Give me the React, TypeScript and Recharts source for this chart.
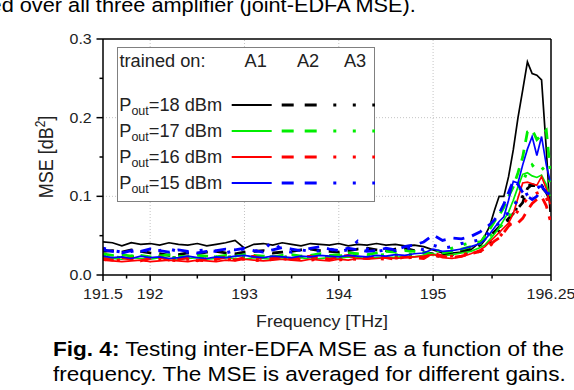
import React from 'react';
import { LineChart, Line, XAxis, YAxis, ReferenceLine, Legend } from 'recharts';

const FONT = '"Liberation Sans", Arial, Helvetica, sans-serif';

// frequency grid [THz]
const freqs = [
  191.5, 191.6, 191.7, 191.8, 191.9, 192.0, 192.1, 192.2, 192.3, 192.4,
  192.5, 192.6, 192.7, 192.8, 192.9, 193.0, 193.1, 193.2, 193.3, 193.4,
  193.5, 193.6, 193.7, 193.8, 193.9, 194.0, 194.1, 194.2, 194.3, 194.4,
  194.5, 194.6, 194.7, 194.8, 194.9, 195.0, 195.1, 195.2, 195.3, 195.4,
  195.5, 195.55, 195.6, 195.65, 195.7, 195.75, 195.8, 195.85, 195.9, 195.95,
  196.0, 196.05, 196.1, 196.15, 196.2, 196.24,
];

// MSE [dB^2], Pout = 18 dBm
const p18A1 = [
  0.042, 0.041, 0.037, 0.041, 0.039, 0.040, 0.038, 0.041, 0.039, 0.038,
  0.040, 0.037, 0.039, 0.041, 0.044, 0.034, 0.039, 0.040, 0.038, 0.041,
  0.039, 0.037, 0.040, 0.039, 0.038, 0.040, 0.037, 0.039, 0.038, 0.040,
  0.038, 0.039, 0.037, 0.038, 0.036, 0.032, 0.028, 0.028, 0.029, 0.032,
  0.042, 0.050, 0.062, 0.082, 0.100, 0.100, 0.125, 0.159, 0.200, 0.235,
  0.271, 0.256, 0.254, 0.248, 0.160, 0.080,
];
const p18A2 = [
  0.030, 0.031, 0.029, 0.032, 0.030, 0.028, 0.027, 0.025, 0.026, 0.028,
  0.027, 0.029, 0.030, 0.028, 0.027, 0.029, 0.030, 0.031, 0.028, 0.029,
  0.030, 0.032, 0.033, 0.031, 0.030, 0.029, 0.031, 0.033, 0.034, 0.032,
  0.031, 0.033, 0.034, 0.031, 0.029, 0.027, 0.026, 0.028, 0.030, 0.033,
  0.038, 0.046, 0.050, 0.055, 0.061, 0.065, 0.072, 0.078, 0.085, 0.092,
  0.110, 0.115, 0.113, 0.112, 0.105, 0.095,
];
const p18A3 = [
  0.023, 0.022, 0.021, 0.023, 0.022, 0.021, 0.022, 0.023, 0.021, 0.022,
  0.023, 0.021, 0.022, 0.023, 0.022, 0.024, 0.022, 0.021, 0.023, 0.022,
  0.024, 0.023, 0.022, 0.021, 0.023, 0.022, 0.024, 0.023, 0.022, 0.024,
  0.023, 0.025, 0.024, 0.023, 0.024, 0.025, 0.024, 0.026, 0.027, 0.029,
  0.030, 0.034, 0.040, 0.047, 0.055, 0.062, 0.070, 0.078, 0.088, 0.100,
  0.112, 0.116, 0.117, 0.114, 0.105, 0.090,
];

// Pout = 17 dBm
const p17A1 = [
  0.022, 0.021, 0.020, 0.022, 0.021, 0.020, 0.022, 0.021, 0.020, 0.021,
  0.022, 0.020, 0.021, 0.022, 0.021, 0.020, 0.022, 0.021, 0.020, 0.022,
  0.021, 0.022, 0.020, 0.021, 0.022, 0.021, 0.023, 0.022, 0.021, 0.022,
  0.023, 0.022, 0.024, 0.023, 0.025, 0.027, 0.024, 0.026, 0.028, 0.030,
  0.035, 0.038, 0.045, 0.052, 0.060, 0.070, 0.080, 0.095, 0.112, 0.128,
  0.130, 0.126, 0.124, 0.127, 0.115, 0.100,
];
const p17A2 = [
  0.027, 0.025, 0.026, 0.024, 0.025, 0.023, 0.024, 0.026, 0.024, 0.023,
  0.025, 0.024, 0.023, 0.025, 0.024, 0.026, 0.025, 0.024, 0.023, 0.025,
  0.026, 0.024, 0.025, 0.027, 0.025, 0.026, 0.028, 0.027, 0.026, 0.028,
  0.030, 0.029, 0.031, 0.030, 0.029, 0.026, 0.028, 0.030, 0.033, 0.036,
  0.040, 0.050, 0.058, 0.068, 0.076, 0.086, 0.100, 0.112, 0.130, 0.150,
  0.182, 0.185, 0.172, 0.178, 0.184, 0.135,
];
const p17A3 = [
  0.025, 0.023, 0.022, 0.024, 0.023, 0.022, 0.024, 0.023, 0.021, 0.023,
  0.022, 0.024, 0.023, 0.022, 0.024, 0.023, 0.022, 0.024, 0.023, 0.022,
  0.024, 0.023, 0.022, 0.024, 0.023, 0.024, 0.025, 0.024, 0.023, 0.025,
  0.026, 0.025, 0.027, 0.026, 0.028, 0.030, 0.031, 0.034, 0.038, 0.041,
  0.042, 0.046, 0.050, 0.055, 0.060, 0.066, 0.072, 0.085, 0.100, 0.118,
  0.132, 0.140, 0.133, 0.137, 0.130, 0.118,
];

// Pout = 16 dBm
const p16A1 = [
  0.019, 0.018, 0.017, 0.018, 0.019, 0.017, 0.018, 0.019, 0.018, 0.017,
  0.019, 0.018, 0.017, 0.019, 0.018, 0.020, 0.019, 0.018, 0.019, 0.020,
  0.019, 0.018, 0.020, 0.019, 0.018, 0.020, 0.019, 0.021, 0.020, 0.021,
  0.022, 0.021, 0.022, 0.023, 0.024, 0.026, 0.022, 0.021, 0.023, 0.027,
  0.032, 0.036, 0.042, 0.048, 0.054, 0.060, 0.066, 0.078, 0.098, 0.117,
  0.118, 0.116, 0.114, 0.125, 0.110, 0.090,
];
const p16A2 = [
  0.021, 0.019, 0.022, 0.020, 0.018, 0.021, 0.023, 0.019, 0.020, 0.022,
  0.018, 0.021, 0.020, 0.023, 0.019, 0.022, 0.024, 0.020, 0.021, 0.023,
  0.020, 0.022, 0.024, 0.021, 0.020, 0.023, 0.025, 0.022, 0.021, 0.024,
  0.022, 0.020, 0.023, 0.022, 0.021, 0.028, 0.024, 0.022, 0.024, 0.027,
  0.030, 0.034, 0.038, 0.043, 0.047, 0.054, 0.062, 0.067, 0.066, 0.072,
  0.082, 0.091, 0.096, 0.100, 0.088, 0.070,
];
const p16A3 = [
  0.020, 0.018, 0.019, 0.021, 0.019, 0.018, 0.020, 0.019, 0.018, 0.020,
  0.019, 0.018, 0.020, 0.019, 0.021, 0.020, 0.019, 0.018, 0.020, 0.021,
  0.019, 0.020, 0.019, 0.021, 0.020, 0.019, 0.021, 0.020, 0.022, 0.021,
  0.020, 0.022, 0.021, 0.023, 0.022, 0.025, 0.023, 0.024, 0.026, 0.028,
  0.030, 0.033, 0.037, 0.042, 0.048, 0.055, 0.063, 0.072, 0.082, 0.090,
  0.097, 0.100, 0.104, 0.106, 0.098, 0.088,
];

// Pout = 15 dBm
const p15A1 = [
  0.024, 0.022, 0.023, 0.021, 0.024, 0.022, 0.023, 0.021, 0.022, 0.024,
  0.022, 0.021, 0.023, 0.022, 0.024, 0.025, 0.023, 0.022, 0.024, 0.023,
  0.022, 0.024, 0.023, 0.025, 0.024, 0.023, 0.025, 0.024, 0.023, 0.025,
  0.024, 0.026, 0.025, 0.027, 0.028, 0.033, 0.030, 0.031, 0.033, 0.036,
  0.040, 0.045, 0.052, 0.060, 0.068, 0.074, 0.095, 0.119, 0.117, 0.140,
  0.160, 0.176, 0.152, 0.176, 0.140, 0.120,
];
const p15A2 = [
  0.032, 0.030, 0.028, 0.031, 0.030, 0.033, 0.031, 0.029, 0.032, 0.030,
  0.028, 0.030, 0.031, 0.033, 0.032, 0.034, 0.031, 0.029, 0.032, 0.035,
  0.033, 0.031, 0.034, 0.036, 0.033, 0.031, 0.034, 0.032, 0.030, 0.031,
  0.034, 0.032, 0.036, 0.038, 0.042, 0.051, 0.044, 0.047, 0.046, 0.049,
  0.055, 0.060, 0.064, 0.070, 0.078, 0.090, 0.105, 0.120, 0.115, 0.105,
  0.100, 0.096, 0.100, 0.113, 0.105, 0.100,
];
const p15A3 = [
  0.034, 0.031, 0.029, 0.030, 0.032, 0.030, 0.031, 0.033, 0.030, 0.029,
  0.031, 0.032, 0.030, 0.028, 0.031, 0.033, 0.030, 0.032, 0.043, 0.031,
  0.029, 0.032, 0.030, 0.031, 0.033, 0.030, 0.032, 0.043, 0.033, 0.030,
  0.032, 0.031, 0.033, 0.035, 0.032, 0.038, 0.034, 0.036, 0.040, 0.042,
  0.045, 0.050, 0.055, 0.060, 0.066, 0.072, 0.080, 0.088, 0.095, 0.100,
  0.103, 0.106, 0.110, 0.114, 0.108, 0.100,
];

const xTicks = [191.5, 191.75, 192, 192.5, 193, 193.5, 194, 194.5, 195, 195.625, 196.25];
const xMajor = [191.5, 192, 193, 194, 195, 196.25];
const yTicks = [0, 0.05, 0.1, 0.15, 0.2, 0.25, 0.3];
const yMajor = [0, 0.1, 0.2, 0.3];
const xGrid = [192, 193, 194, 195];
const yGrid = [0.1, 0.2];

const powers = ['18', '17', '16', '15'];
const powerColors = ['#000000', '#00ee00', '#ff0000', '#0000ff'];
const trainedOn = ['A1', 'A2', 'A3'];

const lineStyles: Record<string, { width: number; dash?: string }> = {
  A1: { width: 1.7 },
  A2: { width: 2.8, dash: '11 8' },
  A3: { width: 3, dash: '3 11' },
};

const series = [
  { key: 'p18A1', color: powerColors[0], amp: 'A1', values: p18A1 },
  { key: 'p18A2', color: powerColors[0], amp: 'A2', values: p18A2 },
  { key: 'p18A3', color: powerColors[0], amp: 'A3', values: p18A3 },
  { key: 'p17A1', color: powerColors[1], amp: 'A1', values: p17A1 },
  { key: 'p17A2', color: powerColors[1], amp: 'A2', values: p17A2 },
  { key: 'p17A3', color: powerColors[1], amp: 'A3', values: p17A3 },
  { key: 'p16A1', color: powerColors[2], amp: 'A1', values: p16A1 },
  { key: 'p16A2', color: powerColors[2], amp: 'A2', values: p16A2 },
  { key: 'p16A3', color: powerColors[2], amp: 'A3', values: p16A3 },
  { key: 'p15A1', color: powerColors[3], amp: 'A1', values: p15A1 },
  { key: 'p15A2', color: powerColors[3], amp: 'A2', values: p15A2 },
  { key: 'p15A3', color: powerColors[3], amp: 'A3', values: p15A3 },
];

const XTick = (props: any) => {
  const { x, y, payload } = props;
  const major = xMajor.includes(payload.value);
  return (
    <g>
      <line x1={x} x2={x} y1={y} y2={y + (major ? 6 : 3.5)} stroke="#000" strokeWidth={1.5} />
      {major && (
        <text transform={`translate(${x} ${y + 24.3}) scale(1.14 1)`} textAnchor="middle" fontSize={14} fill="#222">
          {String(payload.value)}
        </text>
      )}
    </g>
  );
};

const YTick = (props: any) => {
  const { x, y, payload } = props;
  const major = yMajor.some((v) => Math.abs(v - payload.value) < 1e-9);
  return (
    <g>
      <line x1={x - (major ? 6.5 : 3.5)} x2={x} y1={y} y2={y} stroke="#000" strokeWidth={1.5} />
      {major && (
        <text transform={`translate(${x - 11.3} ${y + 5}) scale(1.14 1)`} textAnchor="end" fontSize={14} fill="#222">
          {payload.value.toFixed(1)}
        </text>
      )}
    </g>
  );
};

const XTitle = (props: any) => {
  const vb = props.viewBox;
  return (
    <text transform={`translate(${vb.x + vb.width / 2 - 5} ${vb.y + 51.7}) scale(1.05 1)`} textAnchor="middle" fontSize={17} fill="#222">
      Frequency [THz]
    </text>
  );
};

const YTitle = (props: any) => {
  const vb = props.viewBox;
  const cx = vb.x + 2.8;
  const cy = vb.y + vb.height / 2;
  return (
    <text transform={`translate(${cx} ${cy}) scale(1.15 1) rotate(-90)`} x={0} y={6.4} textAnchor="middle" fontSize={18} fill="#222">
      MSE [dB<tspan dy={-7} fontSize={12}>2</tspan><tspan dy={7}>]</tspan>
    </text>
  );
};

const legendColX = [138.7, 191, 238];

const LegendBox = () => (
  <svg width={258} height={155} style={{ display: 'block', fontFamily: FONT }}>
    <rect x={0.5} y={0.5} width={257} height={154} fill="#fff" stroke="#808080" strokeWidth={1} />
    <text transform="translate(2.5 19.7) scale(1.04 1)" fontSize={17.5} fill="#222">trained on:</text>
    {trainedOn.map((a, i) => (
      <text key={a} transform={`translate(${legendColX[i]} 19.7) scale(1.04 1)`} textAnchor="middle" fontSize={17.5} fill="#222">
        {a}
      </text>
    ))}
    {powers.map((p, r) => {
      const base = 63.7 + 26 * r;
      const ly = base - 5.7;
      const c = powerColors[r];
      return (
        <g key={p}>
          <text transform={`translate(2.3 ${base}) scale(1.04 1)`} fontSize={17.5} fill="#222">
            P<tspan fontSize={12} dy={4.3}>out</tspan>
            <tspan dy={-4.3}>={p} dBm</tspan>
          </text>
          <line x1={114.7} x2={154.7} y1={ly} y2={ly} stroke={c} strokeWidth={2} />
          <line x1={164.7} x2={199.7} y1={ly} y2={ly} stroke={c} strokeWidth={3} strokeDasharray="12 11" />
          <line x1={216.3} x2={258} y1={ly} y2={ly} stroke={c} strokeWidth={3} strokeDasharray="3 16.5" />
        </g>
      );
    })}
  </svg>
);

export default function App() {
  const data = freqs.map((f, i) => {
    const row: Record<string, number> = { f };
    series.forEach((s) => {
      row[s.key] = s.values[i];
    });
    return row;
  });

  return (
    <div style={{ position: 'absolute', left: 0, top: 0, width: 574, height: 390, overflow: 'hidden', background: '#fff', fontFamily: FONT, color: '#000' }}>
      <div
        style={{
          position: 'absolute', right: 158, top: -7.6, fontSize: 20.5, lineHeight: '25px',
          whiteSpace: 'nowrap', transform: 'scaleX(1.06)', transformOrigin: 'right center',
        }}
      >
        averaged over all three amplifier (joint-EDFA MSE).
      </div>

      <div style={{ position: 'absolute', left: 0, top: 0 }}>
        <LineChart width={574} height={390} data={data} margin={{ top: 39, right: 23, bottom: 85, left: 43 }} style={{ fontFamily: FONT }}>
          <XAxis
            type="number"
            dataKey="f"
            domain={[191.5, 196.25]}
            ticks={xTicks}
            interval={0}
            height={30}
            tickSize={0}
            tickMargin={0}
            tickLine={false}
            tick={<XTick />}
            axisLine={{ stroke: '#000', strokeWidth: 1.5 }}
            allowDataOverflow
            label={XTitle}
          />
          <YAxis
            type="number"
            domain={[0, 0.3]}
            ticks={yTicks}
            interval={0}
            width={60}
            tickSize={0}
            tickMargin={0}
            tickLine={false}
            tick={<YTick />}
            axisLine={{ stroke: '#000', strokeWidth: 1.5 }}
            allowDataOverflow
            label={YTitle}
          />
          {xGrid.map((v) => (
            <ReferenceLine key={`gx${v}`} x={v} stroke="#c4c4c4" strokeWidth={1} strokeDasharray="1 2" />
          ))}
          {yGrid.map((v) => (
            <ReferenceLine key={`gy${v}`} y={v} stroke="#c4c4c4" strokeWidth={1} strokeDasharray="1 2" />
          ))}
          <ReferenceLine y={0.3} stroke="#000" strokeWidth={1.5} />
          <ReferenceLine x={196.25} stroke="#000" strokeWidth={1.5} />
          {series.map((s) => (
            <Line
              key={s.key}
              type="linear"
              dataKey={s.key}
              stroke={s.color}
              strokeWidth={lineStyles[s.amp].width}
              strokeDasharray={lineStyles[s.amp].dash}
              dot={false}
              activeDot={false}
              legendType="none"
              isAnimationActive={false}
            />
          ))}
          <Legend
            layout="vertical"
            align="center"
            verticalAlign="middle"
            width={258}
            height={155}
            content={LegendBox}
            wrapperStyle={{ position: 'absolute', left: 117, top: 47, width: 258, height: 155 }}
          />
        </LineChart>
      </div>

      <div
        style={{
          position: 'absolute', left: 53, top: 336.4, fontSize: 20.5, lineHeight: '25px',
          whiteSpace: 'nowrap', transform: 'scaleX(1.1)', transformOrigin: 'left center',
        }}
      >
        <b>Fig. 4:</b> Testing inter-EDFA MSE as a function of the
        <br />
        frequency. The MSE is averaged for different gains.
      </div>
    </div>
  );
}
